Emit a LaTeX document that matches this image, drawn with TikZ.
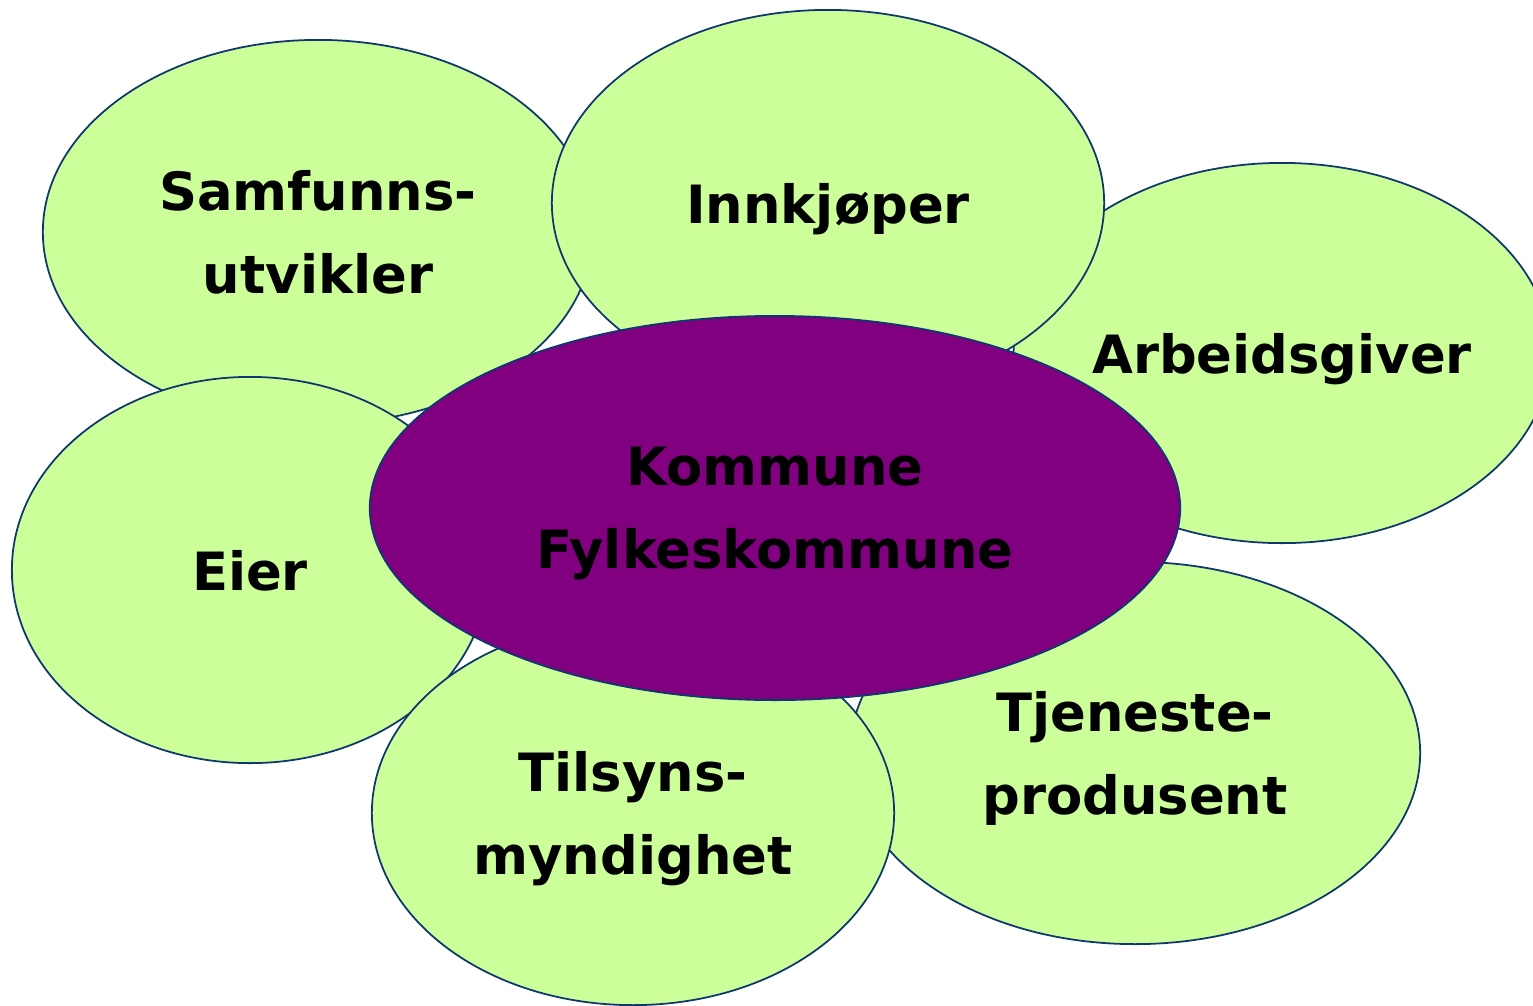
\documentclass[tikz,border=0pt]{standalone}
\usepackage{fontspec}
\setmainfont{DejaVu Sans}
\usetikzlibrary{shapes.geometric}
\definecolor{rand}{RGB}{13,55,110}
\definecolor{gruen}{RGB}{204,255,153}
\definecolor{lila}{RGB}{128,0,128}
\begin{document}
\begin{tikzpicture}[x=0.01cm, y=-0.01cm,
  rolle/.style={ellipse, draw=rand, fill=gruen, line width=0.5pt, inner sep=0, outer sep=0,
    align=center, text depth=0pt, font=\fontsize{15pt}{23.6pt}\selectfont\bfseries},
  kommune/.style={rolle, fill=lila}]
\useasboundingbox (0,0) rectangle (1533,1005);
% Rollen rundherum
\node[rolle, minimum width=5.02cm, minimum height=3.80cm] (arbeidsgiver) at (1282,353) {Arbeidsgiver};
\node[rolle, minimum width=5.50cm, minimum height=3.84cm] (samfunn) at (318,232) {Samfunns-\\utvikler};
\node[rolle, minimum width=5.52cm, minimum height=3.86cm] (innkjoeper) at (828,203) {Innkjøper};
\node[rolle, minimum width=5.70cm, minimum height=3.82cm] (tjeneste) at (1135,753) {Tjeneste-\\produsent};
\node[rolle, minimum width=4.76cm, minimum height=3.86cm] (eier) at (250,570) {Eier};
\node[rolle, minimum width=5.22cm, minimum height=3.84cm] (tilsyn) at (633,813) {Tilsyns-\\myndighet};
% Mitte
\node[kommune, minimum width=8.10cm, minimum height=3.84cm] (kommune) at (775,508) {Kommune\\Fylkeskommune};
\end{tikzpicture}
\end{document}
